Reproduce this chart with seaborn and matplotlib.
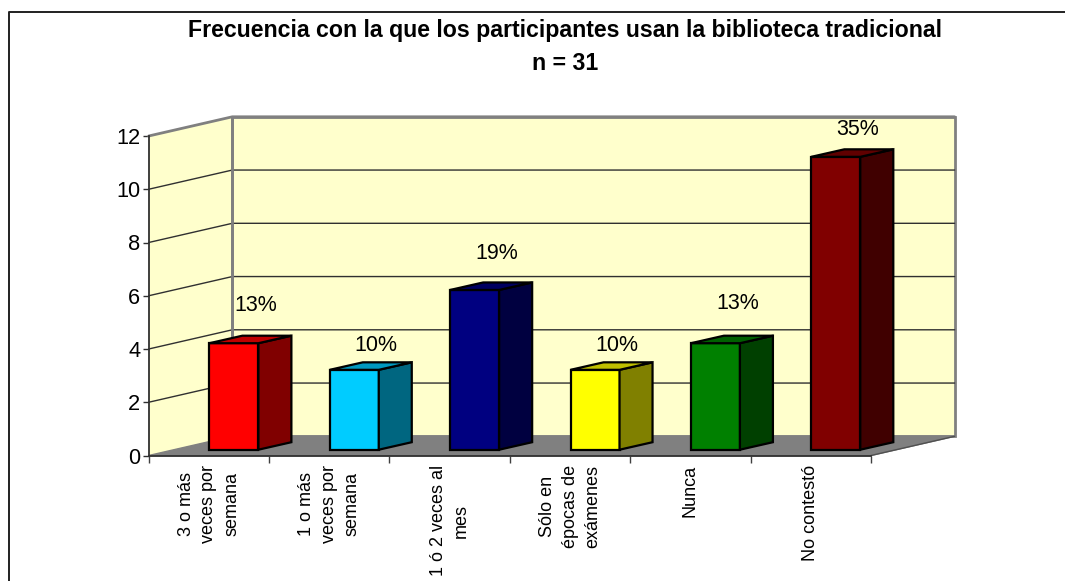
import matplotlib
matplotlib.use('Agg')
import matplotlib.pyplot as plt
from matplotlib.colors import to_rgb
from matplotlib.lines import Line2D
from matplotlib.patches import Polygon
import pandas as pd
import seaborn as sns

categories = ['3 o más\nveces por\nsemana', '1 o más\nveces por\nsemana', '1 ó 2 veces al\nmes',
              'Sólo en\népocas de\nexámenes', 'Nunca', 'No contestó']
counts = [4, 3, 6, 3, 4, 11]
percent_labels = ['13%', '10%', '19%', '10%', '13%', '35%']
bar_colors = ['#FF0000', '#00CCFF', '#000080', '#FFFF00', '#008000', '#800000']
y_ticks = [0, 2, 4, 6, 8, 10, 12]
title = 'Frecuencia con la que los participantes usan la biblioteca tradicional\nn = 31'

sns.set_theme(style='white')
plt.rcParams['font.family'] = ['Liberation Sans', 'DejaVu Sans']

W, H = 1065, 581
fig = plt.figure(figsize=(W / 100, H / 100), dpi=100)

# front plane of the fake 3d box, in pixels
left, right, y0, y12 = 148.7, 871.0, 455.5, 136.0
ax = fig.add_axes([left / W, 1 - y0 / H, (right - left) / W, (y0 - y12) / H])
ax.set_xlim(-0.5, 5.5)
ax.set_ylim(0, 12)
ax.patch.set_visible(False)

px = (right - left) / 6
py = (y0 - y12) / 12
depth_x, depth_y = 83.6 / px, 19.2 / py       # full depth of the box
bar_dx, bar_dy = 33 / px, 7.5 / py            # depth of one bar
shift_x, shift_y = 25.0 / px, 5.8 / py        # bars stand inside the floor
bar_w = 49 / px

# walls and floor
wall = '#FFFFCC'
ax.add_patch(Polygon([(-0.5, 0), (-0.5, 12), (-0.5 + depth_x, 12 + depth_y), (-0.5 + depth_x, depth_y)],
                     fc=wall, ec='none', clip_on=False, zorder=0))
ax.add_patch(Polygon([(-0.5 + depth_x, depth_y), (-0.5 + depth_x, 12 + depth_y),
                      (5.5 + depth_x, 12 + depth_y), (5.5 + depth_x, depth_y)],
                     fc=wall, ec='#808080', lw=2, clip_on=False, zorder=0))
ax.add_patch(Polygon([(-0.5, 0), (-0.5 + depth_x, depth_y), (5.5 + depth_x, depth_y), (5.5, 0)],
                     fc='#808080', ec='#808080', lw=1, clip_on=False, zorder=1))
ax.plot([5.5, 5.5 + depth_x], [0, depth_y], color='#505050', lw=1, clip_on=False, zorder=1)
ax.plot([-0.5, -0.5 + depth_x, 5.5 + depth_x], [12, 12 + depth_y, 12 + depth_y],
        color='#808080', lw=2, clip_on=False, zorder=1)

# gridlines run along the side wall and across the back
for t in y_ticks[1:-1]:
    ax.plot([-0.5, -0.5 + depth_x, 5.5 + depth_x], [t, t + depth_y, t + depth_y],
            color='#303030', lw=1, clip_on=False, zorder=1)
ax.plot([-0.5 + depth_x, -0.5 + depth_x], [depth_y, 12 + depth_y], color='#808080', lw=2,
        clip_on=False, zorder=1)

df = pd.DataFrame({'categoria': categories, 'n': counts})
sns.barplot(data=df, x='categoria', y='n', hue='categoria', palette=bar_colors, legend=False,
            width=bar_w, saturation=1, edgecolor='black', linewidth=1.6, ax=ax, zorder=3)
ax.set_xlim(-0.5, 5.5)
ax.set_ylim(0, 12)

bars = [b for cont in ax.containers for b in cont]

# move each front face back onto the floor and add its side and top
lifts = [38, 24, 36, 24, 40, 27]
for bar, n, lab, lift in zip(bars, counts, percent_labels, lifts):
    bar.set_x(bar.get_x() + shift_x)
    bar.set_y(shift_y)
    bar.set_clip_on(False)
    x0, x1 = bar.get_x(), bar.get_x() + bar.get_width()
    y1 = shift_y + n
    c = to_rgb(bar.get_facecolor())
    side = tuple(v * 0.5 for v in c)
    top = tuple(v * 0.75 for v in c)
    ax.add_patch(Polygon([(x1, shift_y), (x1 + bar_dx, shift_y + bar_dy), (x1 + bar_dx, y1 + bar_dy), (x1, y1)],
                         fc=side, ec='black', lw=1.6, clip_on=False, zorder=3))
    ax.add_patch(Polygon([(x0, y1), (x0 + bar_dx, y1 + bar_dy), (x1 + bar_dx, y1 + bar_dy), (x1, y1)],
                         fc=top, ec='black', lw=1.6, clip_on=False, zorder=3))
    ax.annotate(lab, ((x0 + x1) / 2 + bar_dx / 2, y1), xytext=(4, lift * 0.72), textcoords='offset points',
                ha='center', va='center', fontsize=15.5, color='black', zorder=5, annotation_clip=False)

# axes
for name in ['top', 'right']:
    ax.spines[name].set_visible(False)
for name in ['left', 'bottom']:
    ax.spines[name].set_color('#303030')
    ax.spines[name].set_linewidth(1.3)
    ax.spines[name].set_zorder(2)
ax.set_xlabel('')
ax.set_ylabel('')
ax.set_yticks(y_ticks)
ax.set_yticklabels([str(t) for t in y_ticks], fontsize=15.7, color='black')
ax.tick_params(axis='y', left=True, length=4, width=1, color='#303030', pad=2)
ax.set_xticks(range(6))
ax.set_xticklabels(categories, rotation=90, fontsize=13, color='black', ha='center', va='top',
                   linespacing=1.45, multialignment='center')
ax.set_xticks([i - 0.5 for i in range(7)], minor=True)
ax.tick_params(axis='x', which='major', bottom=False, pad=1)
ax.tick_params(axis='x', which='minor', bottom=True, length=5, width=1, color='#404040')

# outer border (only top and left fall inside the image)
fig.add_artist(Line2D([8.5 / W, 8.5 / W, 1], [0, 1 - 11.5 / H, 1 - 11.5 / H], color='#202020', lw=1.4,
                      transform=fig.transFigure))

fig.text(565 / W, 1 - 31 / H, title.split('\n')[0], ha='center', va='center', fontsize=16.63, fontweight='bold',
         color='black')
fig.text(565 / W, 1 - 63 / H, title.split('\n')[1], ha='center', va='center', fontsize=16.63, fontweight='bold',
         color='black')

fig.savefig('out.png', dpi=100)
